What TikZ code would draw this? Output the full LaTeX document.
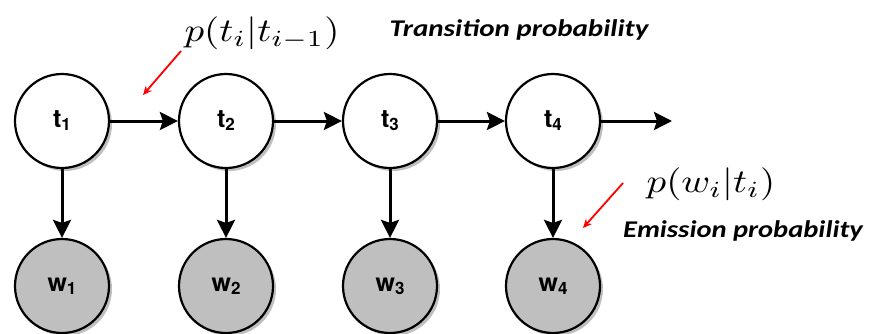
\documentclass[tikz,border=0pt]{standalone}
\usepackage{fontspec}
\setsansfont{TeX Gyre Heros}
\newfontfamily\calib{Carlito}
\usetikzlibrary{arrows.meta,shadows}
\begin{document}
\begin{tikzpicture}[x=1pt,y=-1pt,
  hid/.style={circle,draw=black,line width=2.2pt,fill=white,minimum size=94pt,inner sep=0pt,
    drop shadow={shadow xshift=3pt,shadow yshift=-3pt,opacity=0.25,fill=black}},
  obs/.style={hid,fill=black!25},
  lab/.style={font=\sffamily\bfseries\fontsize{25}{25}\selectfont},
  edge/.style={line width=3pt,-{Stealth[length=18pt,width=18pt,inset=3pt]}},
  redarr/.style={red,line width=1.8pt,-{Stealth[length=9pt,width=8pt]}},
  capt/.style={font=\calib\bfseries\itshape\fontsize{24}{24}\selectfont},
  mth/.style={font=\normalsize}]
\useasboundingbox (0,0) rectangle (869,333);
\foreach \i/\x in {1/62,2/226,3/390,4/553}{
  \node[hid,lab] (t\i) at (\x,121) {t\raisebox{-3pt}{\fontsize{17}{17}\selectfont\i}};
  \node[obs,lab] (w\i) at (\x,286) {w\raisebox{-3pt}{\fontsize{17}{17}\selectfont\i}};
  \draw[edge] (t\i) -- (w\i);
}
\coordinate (end) at (672,121);
\draw[edge] (t1) -- (t2);
\draw[edge] (t2) -- (t3);
\draw[edge] (t3) -- (t4);
\draw[edge] (t4) -- (end);
\node[mth] (ptrans) at (262,33) {\scalebox{3.9}[3.3]{$p(t_i|t_{i-1})$}};
\node[capt] (ttrans) at (519,30) {\scalebox{1.21}[1]{Transition probability}};
\node[mth] (pemit) at (711,184) {\scalebox{3.9}[3.3]{$p(w_i|t_i)$}};
\node[capt] (temit) at (743,231) {\scalebox{1.19}[1]{Emission probability}};
\coordinate (r1s) at (181,51);
\coordinate (r1e) at (143,95);
\coordinate (r2s) at (623,183);
\coordinate (r2e) at (583,228);
\draw[redarr] (r1s) -- (r1e);
\draw[redarr] (r2s) -- (r2e);
\end{tikzpicture}
\end{document}
